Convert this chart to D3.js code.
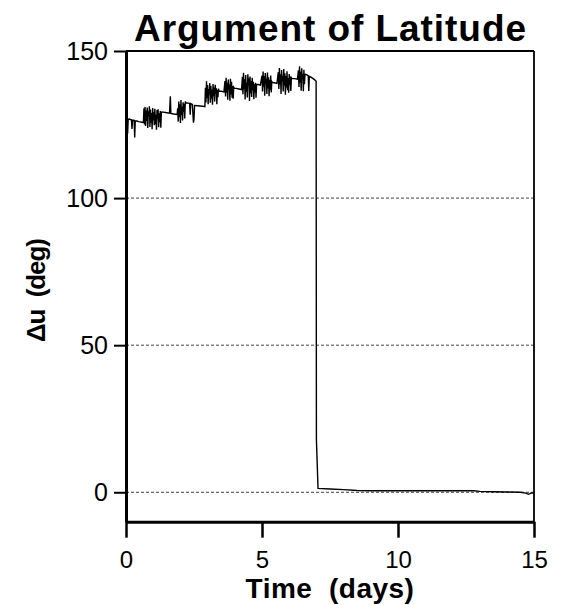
<!DOCTYPE html>
<html>
<head>
<meta charset="utf-8">
<script src="https://cdn.jsdelivr.net/npm/d3@7"></script>
<style>
  html, body { margin: 0; padding: 0; background: #fff; }
  svg { display: block; }
  text { font-family: "Liberation Sans", Arial, Helvetica, sans-serif; fill: #000; }
</style>
</head>
<body>
<script>
// Chart text
const titleText = "Argument of Latitude";
const xLabelText = "Time\u00a0\u00a0(days)";
const yLabelText = "\u0394u\u00a0\u00a0(deg)";

// Axis ticks and reference lines
const xTicks = [0, 5, 10, 15];
const yTicks = [0, 50, 100, 150];
const gridValues = [0, 50, 100];
const xDomain = [0, 15];
const yDomain = [-10, 150];

// Argument-of-latitude difference [time (days), delta u (deg)]
const series = [
  [0.00,127.2],[0.02,124.0],[0.04,127.0],[0.06,122.0],[0.08,126.8],[0.12,126.9],[0.16,126.7],[0.20,126.6],
  [0.22,123.5],[0.24,126.5],[0.30,126.4],[0.32,120.6],[0.34,126.3],[0.40,126.2],[0.46,126.0],[0.52,125.9],
  [0.58,125.8],[0.64,125.7],
  [0.66,130.5],[0.68,125.0],[0.70,131.0],[0.72,124.5],[0.74,129.8],[0.76,126.2],[0.78,130.8],[0.80,123.8],
  [0.82,129.5],[0.84,127.8],[0.86,131.2],[0.88,124.2],[0.90,130.1],[0.92,125.6],[0.94,128.9],[0.96,123.4],
  [0.98,130.6],[1.00,126.5],[1.02,129.2],[1.04,124.8],[1.06,130.4],[1.08,125.1],[1.10,128.4],[1.12,123.2],
  [1.14,129.9],[1.16,126.8],[1.18,130.2],[1.20,124.1],[1.22,128.8],[1.24,125.7],[1.26,129.6],[1.28,123.9],
  [1.30,129.0],
  [1.32,129.3],[1.45,129.1],[1.60,128.9],[1.63,134.6],[1.65,128.8],[1.75,128.6],[1.88,128.4],
  [1.90,130.5],[1.92,126.0],[1.94,132.8],[1.96,127.5],[1.98,131.9],[2.00,125.5],[2.02,133.3],[2.04,128.2],
  [2.06,131.1],[2.08,126.4],[2.10,132.6],[2.12,129.3],[2.14,132.1],[2.16,127.1],[2.18,132.8],[2.20,132.4],
  [2.28,132.3],[2.34,132.2],[2.36,128.3],[2.38,132.1],[2.44,131.8],[2.48,125.6],[2.50,127.0],[2.52,131.5],
  [2.62,131.4],[2.72,131.3],[2.82,131.2],[2.90,131.1],
  [2.92,137.5],[2.94,132.5],[2.96,139.7],[2.98,134.0],[3.00,138.4],[3.02,131.9],[3.04,137.1],[3.06,135.2],
  [3.08,139.1],[3.10,132.4],[3.12,138.2],[3.14,133.8],[3.16,136.9],[3.18,131.7],[3.20,138.8],[3.22,134.6],
  [3.24,137.6],[3.26,132.8],[3.28,138.5],[3.30,135.5],[3.32,137.3],[3.34,131.9],[3.36,136.8],[3.38,134.3],
  [3.40,137.2],[3.42,136.4],[3.50,136.3],[3.60,136.1],
  [3.64,139.8],[3.66,134.5],[3.68,140.9],[3.70,135.8],[3.72,139.2],[3.74,133.4],[3.76,140.3],[3.78,136.9],
  [3.80,138.6],[3.82,133.1],[3.84,140.6],[3.86,135.2],[3.88,139.5],[3.90,134.1],[3.92,138.1],[3.94,133.8],
  [3.96,137.7],[3.98,137.4],[4.05,137.3],[4.15,137.1],[4.25,136.9],
  [4.28,141.2],[4.30,135.3],[4.32,142.6],[4.34,137.0],[4.36,140.4],[4.38,133.5],[4.40,141.8],[4.42,136.1],
  [4.44,139.3],[4.46,134.2],[4.48,142.1],[4.50,138.4],[4.52,140.7],[4.54,133.0],[4.56,141.3],[4.58,135.6],
  [4.60,139.8],[4.62,134.4],[4.64,140.9],[4.66,136.7],[4.68,139.5],[4.70,133.6],[4.72,138.8],[4.74,135.9],
  [4.76,139.2],[4.78,134.1],[4.80,138.6],[4.86,138.6],[4.94,138.4],
  [5.00,141.6],[5.02,136.2],[5.04,143.0],[5.06,137.8],[5.08,141.4],[5.10,134.8],[5.12,142.5],[5.14,138.9],
  [5.16,140.6],[5.18,135.4],[5.20,142.7],[5.22,137.3],[5.24,141.1],[5.26,134.6],[5.28,140.2],[5.30,136.8],
  [5.32,141.7],[5.34,135.9],[5.36,139.6],[5.38,139.3],[5.45,139.2],[5.55,139.0],
  [5.60,142.8],[5.62,137.1],[5.64,144.2],[5.66,138.6],[5.68,142.1],[5.70,135.4],[5.72,143.5],[5.74,139.8],
  [5.76,141.6],[5.78,136.2],[5.80,143.9],[5.82,138.3],[5.84,142.4],[5.86,135.1],[5.88,141.5],[5.90,137.6],
  [5.92,143.1],[5.94,136.7],[5.96,140.8],[5.98,135.8],[6.00,142.2],[6.02,138.5],[6.04,141.3],[6.06,136.4],
  [6.08,140.9],[6.10,140.6],[6.20,140.6],[6.30,140.4],
  [6.34,143.4],[6.36,137.8],[6.38,144.8],[6.40,139.2],[6.42,142.9],[6.44,136.5],[6.46,144.1],[6.48,140.3],
  [6.50,142.2],[6.52,136.3],[6.54,143.6],[6.56,138.7],[6.58,141.9],[6.60,142.1],
  [6.65,141.9],[6.70,141.6],[6.72,136.4],[6.74,141.4],[6.80,141.1],[6.88,140.6],[6.95,140.1],[6.99,139.7],
  [7.00,18.0],[7.06,1.3],
  [7.50,1.1],[8.00,0.9],[8.50,0.6],[9.00,0.5],[10.00,0.5],[11.00,0.5],[12.00,0.5],[12.80,0.5],
  [13.00,0.3],[13.50,0.2],[14.00,0.1],[14.50,0.0],[14.70,-0.3],[14.80,-0.7],[14.90,-0.2],[15.00,-0.3]
];

const width = 567, height = 605;
const plot = { left: 126, right: 534, top: 51, bottom: 521.7 };
const fontStack = "'Liberation Sans', Arial, sans-serif";

const svg = d3.select("body").append("svg")
  .attr("width", width)
  .attr("height", height);

const x = d3.scaleLinear().domain(xDomain).range([plot.left, plot.right]);
const y = d3.scaleLinear().domain(yDomain).range([plot.bottom, plot.top]);

// Dashed reference lines
svg.append("g").selectAll("line")
  .data(gridValues)
  .join("line")
  .attr("x1", plot.left).attr("x2", plot.right)
  .attr("y1", d => y(d)).attr("y2", d => y(d))
  .attr("stroke", "#111")
  .attr("stroke-width", 0.8)
  .attr("stroke-dasharray", "3,2");

// Data trace
const line = d3.line().x(d => x(d[0])).y(d => y(d[1]));
svg.append("path")
  .datum(series)
  .attr("d", line)
  .attr("fill", "none")
  .attr("stroke", "#000")
  .attr("stroke-width", 1.4)
  .attr("stroke-linejoin", "miter");

// Top and right frame
svg.append("line")
  .attr("x1", plot.left).attr("x2", plot.right)
  .attr("y1", plot.top).attr("y2", plot.top)
  .attr("stroke", "#000").attr("stroke-width", 2);
svg.append("line")
  .attr("x1", plot.right).attr("x2", plot.right)
  .attr("y1", plot.top).attr("y2", plot.bottom)
  .attr("stroke", "#000").attr("stroke-width", 1.8);

// Left axis
const yAxis = svg.append("g")
  .attr("transform", `translate(${plot.left},0)`)
  .call(d3.axisLeft(y).tickValues(yTicks).tickSize(12).tickSizeOuter(0).tickPadding(6));
yAxis.select(".domain").attr("stroke-width", 3);
yAxis.selectAll(".tick line").attr("stroke-width", 2);
yAxis.selectAll(".tick text")
  .attr("font-size", 25)
  .attr("font-family", fontStack);

// Bottom axis
const xAxis = svg.append("g")
  .attr("transform", `translate(0,${plot.bottom})`)
  .call(d3.axisBottom(x).tickValues(xTicks).tickSize(16).tickSizeOuter(0).tickPadding(13));
xAxis.select(".domain").attr("stroke-width", 3);
xAxis.selectAll(".tick line").attr("stroke-width", 2.5);
xAxis.selectAll(".tick text")
  .attr("font-size", 24)
  .attr("font-family", fontStack);

// Title and axis labels
svg.append("text")
  .attr("x", (plot.left + plot.right) / 2)
  .attr("y", 41)
  .attr("text-anchor", "middle")
  .attr("font-size", 37)
  .attr("font-weight", "bold")
  .attr("textLength", 392)
  .attr("lengthAdjust", "spacing")
  .text(titleText);

svg.append("text")
  .attr("x", (plot.left + plot.right) / 2)
  .attr("y", 598)
  .attr("text-anchor", "middle")
  .attr("font-size", 28)
  .attr("font-weight", "bold")
  .attr("letter-spacing", 0.5)
  .text(xLabelText);

svg.append("text")
  .attr("transform", "translate(45,290) rotate(-90)")
  .attr("text-anchor", "middle")
  .attr("font-size", 26)
  .attr("font-weight", "bold")
  .attr("textLength", 104)
  .attr("lengthAdjust", "spacing")
  .text(yLabelText);
</script>
</body>
</html>
